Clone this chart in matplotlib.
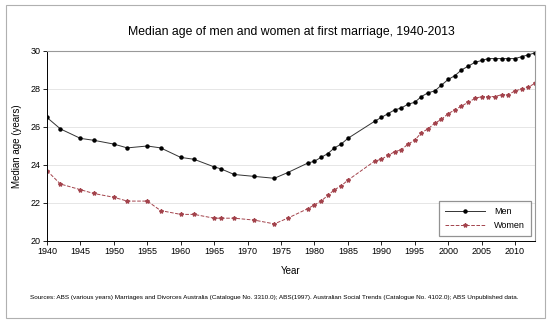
import matplotlib.pyplot as plt
from matplotlib.patches import Rectangle

plt.rcParams['font.family'] = ['Liberation Sans', 'DejaVu Sans']

# data
years = [1940, 1942, 1945, 1947, 1950, 1952, 1955, 1957, 1960, 1962, 1965, 1966,
         1968, 1971, 1974, 1976, 1979, 1980, 1981, 1982, 1983, 1984, 1985,
         1989, 1990, 1991, 1992, 1993, 1994, 1995, 1996, 1997, 1998, 1999, 2000,
         2001, 2002, 2003, 2004, 2005, 2006, 2007, 2008, 2009, 2010, 2011, 2012, 2013]
men = [26.5, 25.9, 25.4, 25.3, 25.1, 24.9, 25.0, 24.9, 24.4, 24.3, 23.9, 23.8,
       23.5, 23.4, 23.3, 23.6, 24.1, 24.2, 24.4, 24.6, 24.9, 25.1, 25.4,
       26.3, 26.5, 26.7, 26.9, 27.0, 27.2, 27.3, 27.6, 27.8, 27.9, 28.2, 28.5,
       28.7, 29.0, 29.2, 29.4, 29.5, 29.6, 29.6, 29.6, 29.6, 29.6, 29.7, 29.8, 29.9]
women = [23.7, 23.0, 22.7, 22.5, 22.3, 22.1, 22.1, 21.6, 21.4, 21.4, 21.2, 21.2,
         21.2, 21.1, 20.9, 21.2, 21.7, 21.9, 22.1, 22.4, 22.7, 22.9, 23.2,
         24.2, 24.3, 24.5, 24.7, 24.8, 25.1, 25.3, 25.7, 25.9, 26.2, 26.4, 26.7,
         26.9, 27.1, 27.3, 27.5, 27.6, 27.6, 27.6, 27.7, 27.7, 27.9, 28.0, 28.1, 28.3]
xticks = list(range(1940, 2011, 5))
yticks = [20, 22, 24, 26, 28, 30]

fig = plt.figure(figsize=(5.51, 3.29), dpi=100)
ax = fig.add_axes([0.0853, 0.2675, 0.8857, 0.5775])

# outer frame around the whole figure
fig.patches.append(Rectangle((6 / 551, 1 - 318 / 329), 539 / 551, 313 / 329,
                             transform=fig.transFigure, fill=False,
                             edgecolor='#b0b0b0', linewidth=0.8))

ax.plot(years, men, color='#333333', linewidth=0.7, marker='o', markersize=2.2,
        markerfacecolor='black', markeredgecolor='black', label='Men')
ax.plot(years, women, color='#a3434c', linewidth=0.7, linestyle='--', marker='*',
        markersize=3.0, markerfacecolor='#a3434c', markeredgecolor='#a3434c', label='Women')

ax.set_xlim(1940, 2013)
ax.set_ylim(20, 30)
ax.set_xticks(xticks)
ax.set_yticks(yticks)
ax.tick_params(labelsize=6.5, length=3, width=0.6, pad=1.5)
for y in yticks[1:-1]:
    ax.axhline(y, color='#e6e6e6', linewidth=0.7, zorder=0)

ax.spines['left'].set_linewidth(0.7)
ax.spines['bottom'].set_linewidth(0.7)
ax.spines['top'].set_color('#999999')
ax.spines['right'].set_color('#999999')
ax.spines['top'].set_linewidth(0.8)
ax.spines['right'].set_linewidth(0.8)

ax.set_xlabel('Year', fontsize=7, labelpad=7)
ax.set_ylabel('Median age (years)', fontsize=7, labelpad=6)
fig.text(0.528, 1 - 32 / 329, 'Median age of men and women at first marriage, 1940-2013',
         ha='center', va='center', fontsize=8.8)
fig.text(0.498, 1 - 297 / 329,
         'Sources: ABS (various years) Marriages and Divorces Australia (Catalogue No. 3310.0); '
         'ABS(1997). Australian Social Trends (Catalogue No. 4102.0); ABS Unpublished data.',
         ha='center', va='center', fontsize=4.6)

leg = ax.legend(loc='lower right', fontsize=6.5, fancybox=False, edgecolor='#777777',
                handlelength=4.5, borderpad=0.6, labelspacing=0.6, handletextpad=1.0,
                bbox_to_anchor=(1.0, 0.005))
leg.get_frame().set_linewidth(0.9)

fig.savefig('out.png', dpi=100)
